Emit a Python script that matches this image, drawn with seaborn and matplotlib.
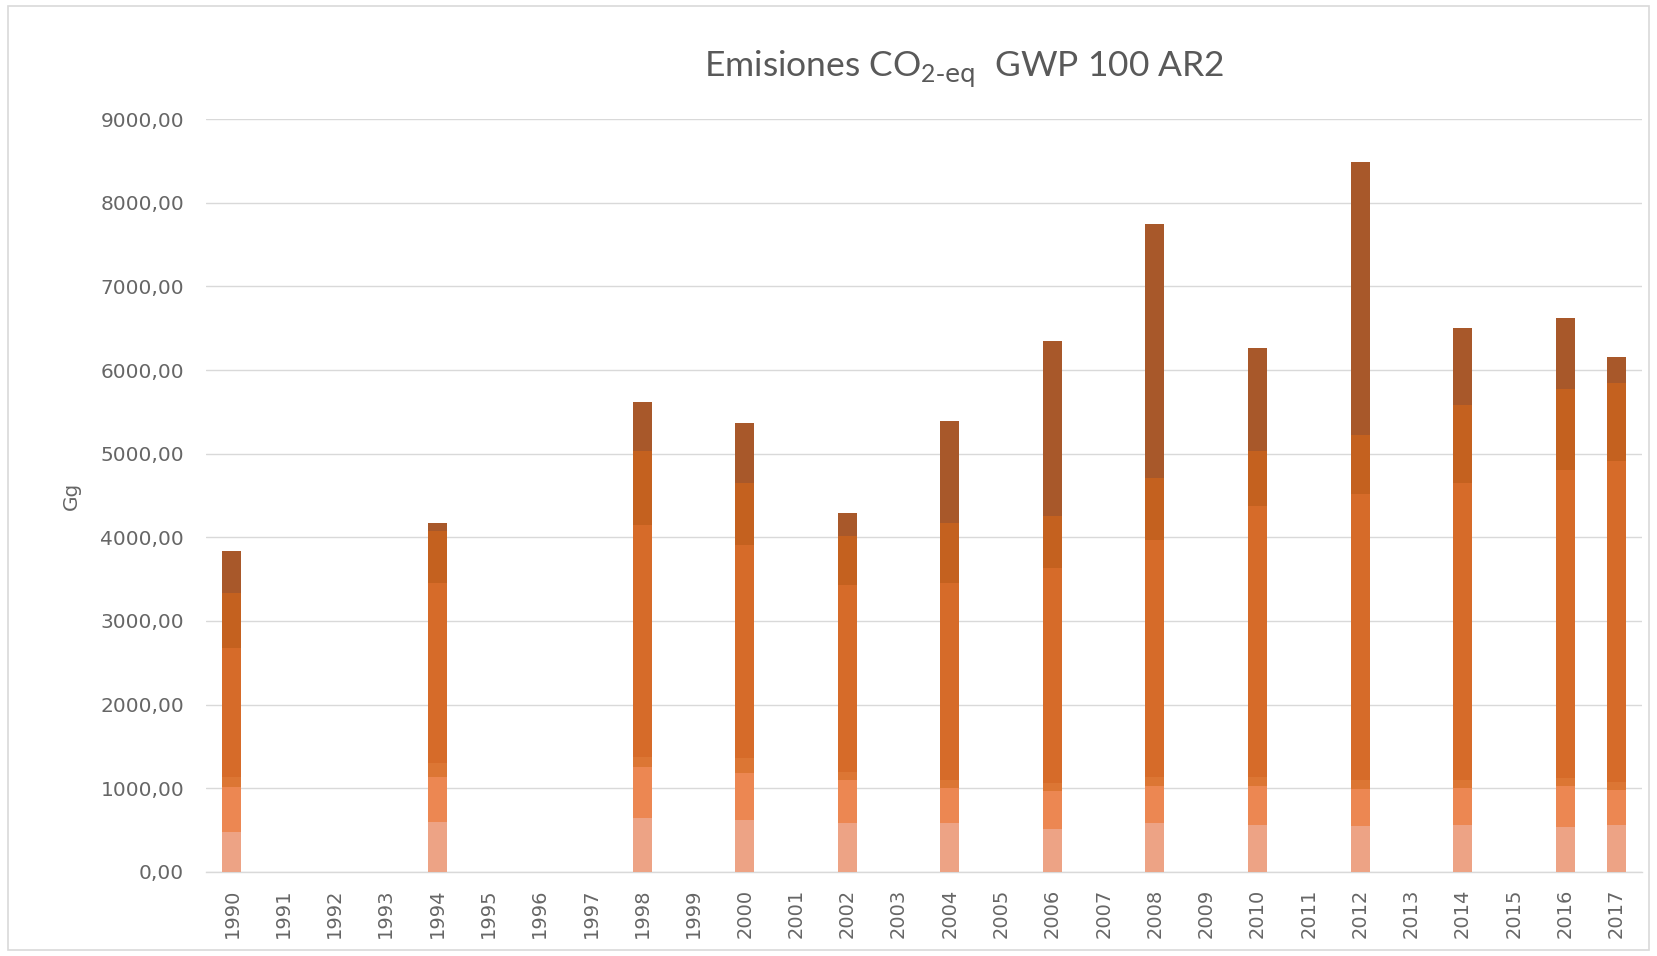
import matplotlib
matplotlib.use("Agg")
import matplotlib.pyplot as plt
import seaborn as sns
import numpy as np
import pandas as pd

# all category slots on the x axis
year_labels = [str(y) for y in range(1990, 2018)]

# years with inventory data
data_years = ["1990", "1994", "1998", "2000", "2002", "2004", "2006",
              "2008", "2010", "2012", "2014", "2016", "2017"]

# stacked segments, bottom -> top (Gg CO2-eq)
seg1 = [480, 600, 640, 620, 580, 580, 516, 585, 560, 554, 556, 533, 556]
seg2 = [540, 540, 617, 558, 520, 420, 449, 445, 470, 440, 446, 491, 424]
seg3 = [120, 160, 120, 180, 100, 100, 100, 100, 100, 100, 100, 100, 100]
seg4 = [1536, 2150, 2773, 2552, 2232, 2352, 2570, 2844, 3248, 3426, 3542, 3676, 3831]
seg5 = [658, 620, 877, 738, 578, 718, 623, 741, 648, 706, 934, 978, 933]
seg6 = [497, 100, 586, 718, 279, 1215, 2086, 3026, 1233, 3265, 920, 844, 312]

seg_colors = ["#EDA385", "#EC8752", "#DC7634", "#D66B29", "#C4611F", "#A8582A"]

segments = [seg1, seg2, seg3, seg4, seg5, seg6]
df = pd.DataFrame({"year": data_years})
cum = np.zeros(len(data_years))
for i, seg in enumerate(segments):
    cum = cum + np.array(seg)
    df[f"cum{i + 1}"] = cum

sns.set_theme(style="white")
plt.rcParams["font.family"] = ["DejaVu Sans"]

fig = plt.figure(figsize=(16.57, 9.56), dpi=100)
ax = fig.add_axes([0.1245, 0.0879, 0.8665, 0.7876])

# draw cumulative totals from the top down so lower layers cover them
for i in range(len(segments), 0, -1):
    sns.barplot(data=df, x="year", y=f"cum{i}", order=year_labels,
                color=seg_colors[i - 1], saturation=1, width=0.37,
                linewidth=0, errorbar=None, ax=ax, zorder=3)

ax.set_xlim(-0.5, len(year_labels) - 0.5)
ax.set_ylim(0, 9000)
ax.set_yticks(np.arange(0, 9001, 1000))
ax.set_yticklabels([f"{v:.2f}".replace(".", ",") for v in np.arange(0, 9001, 1000)])
ax.yaxis.grid(True, color="#d9d9d9", linewidth=1.0, zorder=0)
ax.set_axisbelow(True)
for side in ["top", "right", "left"]:
    ax.spines[side].set_visible(False)
ax.spines["bottom"].set_color("#d9d9d9")
ax.spines["bottom"].set_linewidth(1.0)

ax.tick_params(axis="y", length=0, pad=16, labelsize=14.5, labelcolor="#666666")
ax.tick_params(axis="x", length=0, pad=12, labelsize=14, labelcolor="#666666",
               labelrotation=90)
ax.set_xlabel("")
ax.set_ylabel("Gg", fontsize=14.5, color="#666666", labelpad=14)

fig.text(0.582, 0.927, r"Emisiones CO$_{\mathregular{2\text{-eq}}}$  GWP 100 AR2",
         ha="center", va="center", fontsize=25.5, color="#595959", family="Lato")

# light frame around the chart area
frame = plt.Rectangle((0.005, 0.006), 0.99, 0.988, transform=fig.transFigure,
                      fill=False, edgecolor="#d9d9d9", linewidth=1.2)
fig.patches.append(frame)

fig.savefig("out.png", dpi=100)
